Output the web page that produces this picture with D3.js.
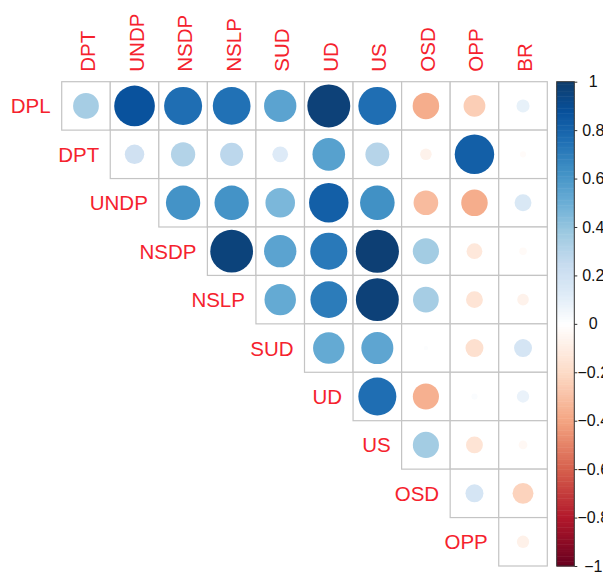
<!DOCTYPE html>
<html>
<head>
<meta charset="utf-8">
<script src="https://cdn.jsdelivr.net/npm/d3@7"></script>
<style>
  html, body { margin: 0; padding: 0; background: #fff; }
  svg { display: block; }
  text { font-family: "Liberation Sans", Arial, sans-serif; }
</style>
</head>
<body>
<svg id="chart" width="603" height="578"></svg>
<script>
// ---- Data ----
const rowLabels = ["DPL", "DPT", "UNDP", "NSDP", "NSLP", "SUD", "UD", "US", "OSD", "OPP"];
const colLabels = ["DPT", "UNDP", "NSDP", "NSLP", "SUD", "UD", "US", "OSD", "OPP", "BR"];
// upper triangle: row i holds values for columns i..9
const rowDPL  = [0.35, 0.87, 0.76, 0.75, 0.55, 0.97, 0.76, -0.37, -0.25, 0.09];
const rowDPT  = [0.20, 0.31, 0.28, 0.13, 0.56, 0.30, -0.07, 0.82, -0.02];
const rowUNDP = [0.62, 0.62, 0.46, 0.82, 0.63, -0.32, -0.37, 0.15];
const rowNSDP = [0.96, 0.55, 0.72, 0.98, 0.36, -0.13, -0.03];
const rowNSLP = [0.52, 0.71, 0.97, 0.35, -0.15, -0.07];
const rowSUD  = [0.52, 0.54, 0.01, -0.17, 0.17];
const rowUD   = [0.76, -0.36, 0.02, 0.08];
const rowUS   = [0.36, -0.15, -0.04];
const rowOSD  = [0.17, -0.23];
const rowOPP  = [-0.08];
const legendTicks = [1, 0.8, 0.6, 0.4, 0.2, 0, -0.2, -0.4, -0.6, -0.8, -1];
const negStops = [-1, -0.8, -0.6, -0.4, -0.2, 0];
const negColors = ["#67001F", "#B2182B", "#D6604D", "#F4A582", "#FDDBC7", "#FFFFFF"];
const posStops = [0.125, 0.25, 0.375, 0.5, 0.625, 0.75, 0.875, 1];
const posColors = ["#DEEBF7", "#C6DBEF", "#9ECAE1", "#6BAED6", "#4292C6", "#2171B5", "#08519C", "#0E3C6C"];

const rowsData = [rowDPL, rowDPT, rowUNDP, rowNSDP, rowNSLP, rowSUD, rowUD, rowUS, rowOSD, rowOPP];

// ---- Layout ----
const svg = d3.select("#chart");
const gx0 = 61.7, gx1 = 547.3, gy0 = 81.7, gy1 = 566;

const x = d3.scaleBand().domain(colLabels.map((d, i) => i)).range([gx0, gx1]);
const y = d3.scaleBand().domain(rowLabels.map((d, i) => i)).range([gy0, gy1]);

const color = d3.scaleLinear()
  .domain(negStops.concat(posStops))
  .range(negColors.concat(posColors))
  .interpolate(d3.interpolateRgb);

const cells = [];
rowsData.forEach((vals, i) => {
  vals.forEach((v, k) => {
    cells.push({ row: i, col: i + k, value: v });
  });
});

const maxR = 0.45 * Math.min(x.bandwidth(), y.bandwidth());
const rScale = d3.scaleSqrt().domain([0, 1]).range([0, maxR]);

// cell grid
svg.append("g").selectAll("rect")
  .data(cells).join("rect")
  .attr("x", d => x(d.col))
  .attr("y", d => y(d.row))
  .attr("width", x.bandwidth())
  .attr("height", y.bandwidth())
  .attr("fill", "#fff")
  .attr("stroke", "#c4c4c4")
  .attr("stroke-width", 1.2);

// circles
svg.append("g").selectAll("circle")
  .data(cells).join("circle")
  .attr("cx", d => x(d.col) + x.bandwidth() / 2)
  .attr("cy", d => y(d.row) + y.bandwidth() / 2)
  .attr("r", d => rScale(Math.abs(d.value)))
  .attr("fill", d => color(d.value));

// row labels
svg.append("g").selectAll("text")
  .data(rowLabels).join("text")
  .attr("x", (d, i) => x(i) - 11)
  .attr("y", (d, i) => y(i) + y.bandwidth() / 2 + 7.5)
  .attr("text-anchor", "end")
  .attr("font-size", 20.5)
  .attr("fill", "#f5222d")
  .text(d => d);

// column labels
svg.append("g").selectAll("text")
  .data(colLabels).join("text")
  .attr("transform", (d, i) => `translate(${x(i) + x.bandwidth() / 2 + 9},${gy0 - 10}) rotate(-90)`)
  .attr("text-anchor", "start")
  .attr("font-size", 20.5)
  .attr("fill", "#f5222d")
  .text(d => d);

// ---- Color legend ----
const lx0 = 556.7, lx1 = 574.3;
const ly = d3.scaleLinear().domain([-1, 1]).range([gy1, gy0]);
const nSteps = 200;
const legendG = svg.append("g");
legendG.selectAll("rect.step")
  .data(d3.range(nSteps)).join("rect")
  .attr("class", "step")
  .attr("x", lx0)
  .attr("width", lx1 - lx0)
  .attr("y", i => ly(-1 + (i + 1) * 2 / nSteps))
  .attr("height", i => ly(-1 + i * 2 / nSteps) - ly(-1 + (i + 1) * 2 / nSteps) + 0.5)
  .attr("fill", i => color(-1 + (i + 0.5) * 2 / nSteps));
legendG.append("rect")
  .attr("x", lx0).attr("y", gy0)
  .attr("width", lx1 - lx0).attr("height", gy1 - gy0)
  .attr("fill", "none").attr("stroke", "#333").attr("stroke-width", 1);

const axis = d3.axisRight(ly).tickValues(legendTicks).tickSize(3).tickPadding(0)
  .tickFormat(d => d3.format("")(d));
const axG = svg.append("g").attr("transform", `translate(${lx1},0)`).call(axis);
axG.select(".domain").remove();
axG.selectAll(".tick line").attr("stroke", "#333");
axG.selectAll(".tick text")
  .attr("x", 19)
  .attr("text-anchor", "middle")
  .attr("font-size", 16)
  .attr("fill", "#111")
  .attr("font-family", "Liberation Sans, Arial, sans-serif");
</script>
</body>
</html>
